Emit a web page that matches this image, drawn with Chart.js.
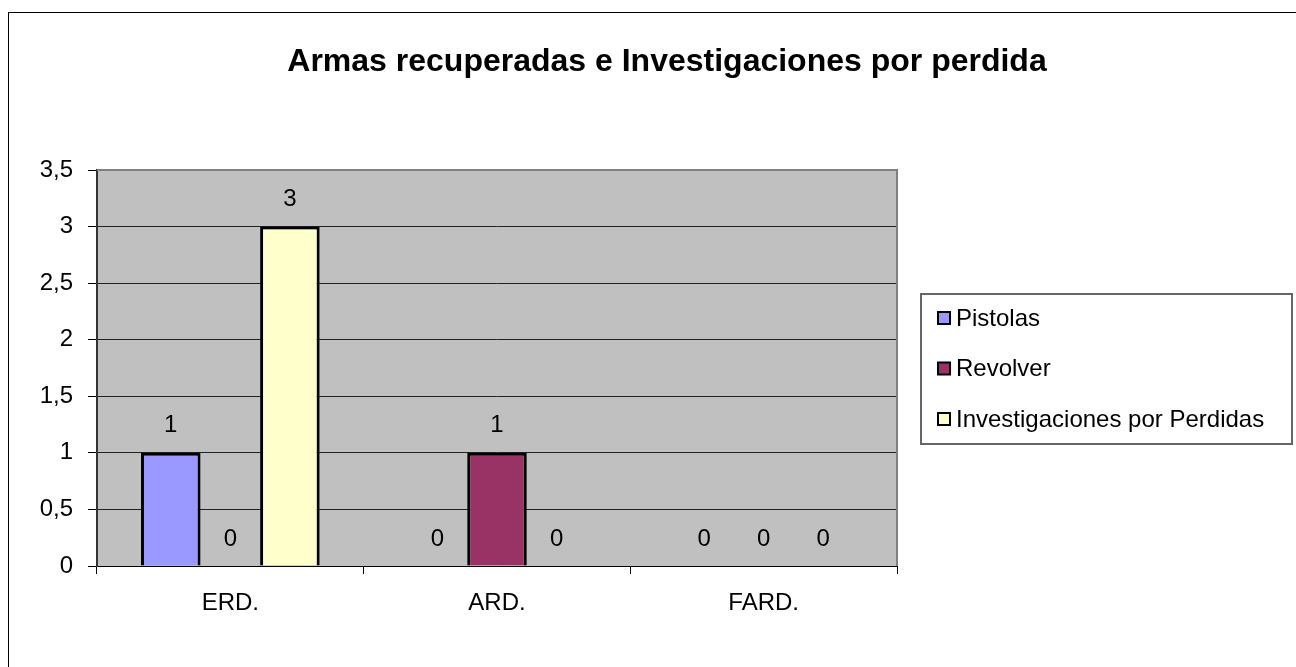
<!DOCTYPE html>
<html>
<head>
<meta charset="utf-8">
<script src="https://cdn.jsdelivr.net/npm/chart.js@4.4.1/dist/chart.umd.min.js"></script>
<style>
  html, body { margin: 0; padding: 0; background: #fff; }
  #chart { display: block; }
</style>
</head>
<body>
<canvas id="chart" width="1296" height="667"></canvas>
<script>
// chart data
const categories = ['ERD.', 'ARD.', 'FARD.'];
const seriesNames = ['Pistolas', 'Revolver', 'Investigaciones por Perdidas'];
const pistolas = [1, 0, 0];
const revolver = [0, 1, 0];
const investigaciones = [3, 0, 0];
const seriesColors = ['#9999FF', '#993366', '#FFFFCC'];
const yMax = 3.5;
const yStep = 0.5;
const titleText = 'Armas recuperadas e Investigaciones por perdida';

const FONT = '"Liberation Sans", Arial, sans-serif';
const fmt = v => String(v).replace('.', ',');

// frame, title, plot background, borders
const decorPlugin = {
    id: 'decor',
    beforeDraw(chart) {
        const ctx = chart.ctx;
        const a = chart.chartArea;
        ctx.save();
        ctx.fillStyle = '#fff';
        ctx.fillRect(0, 0, chart.width, chart.height);
        // outer chart frame
        ctx.strokeStyle = '#000';
        ctx.lineWidth = 1;
        ctx.strokeRect(8.5, 12.5, chart.width + 20, chart.height + 20);
        // plot area
        ctx.fillStyle = '#C0C0C0';
        ctx.fillRect(a.left, a.top, a.right - a.left, a.bottom - a.top);
        // title
        ctx.fillStyle = '#000';
        ctx.font = 'bold 32px ' + FONT;
        ctx.textAlign = 'center';
        ctx.textBaseline = 'alphabetic';
        ctx.fillText(titleText, 667, 71);
        ctx.restore();
    },
    beforeDatasetsDraw(chart) {
        const ctx = chart.ctx;
        const a = chart.chartArea;
        ctx.save();
        ctx.strokeStyle = '#808080';
        ctx.lineWidth = 2;
        ctx.beginPath();
        ctx.moveTo(a.left, a.top);
        ctx.lineTo(a.right, a.top);
        ctx.lineTo(a.right, a.bottom);
        ctx.stroke();
        ctx.restore();
    }
};

// value labels above each bar
const valueLabels = {
    id: 'valueLabels',
    afterDatasetsDraw(chart) {
        const ctx = chart.ctx;
        ctx.save();
        ctx.font = '24px ' + FONT;
        ctx.fillStyle = '#000';
        ctx.textAlign = 'center';
        ctx.textBaseline = 'middle';
        chart.data.datasets.forEach((ds, i) => {
            chart.getDatasetMeta(i).data.forEach((bar, j) => {
                ctx.fillText(fmt(ds.data[j]), bar.x, bar.y - 27);
            });
        });
        ctx.restore();
    }
};

// boxed legend on the right
const boxLegend = {
    id: 'boxLegend',
    afterDraw(chart) {
        const ctx = chart.ctx;
        ctx.save();
        ctx.strokeStyle = '#666';
        ctx.lineWidth = 2;
        ctx.strokeRect(921, 294, 371, 150);
        ctx.font = '24px ' + FONT;
        ctx.textAlign = 'left';
        ctx.textBaseline = 'middle';
        chart.data.datasets.forEach((ds, i) => {
            const cy = 318 + i * 50.5;
            ctx.fillStyle = ds.backgroundColor;
            ctx.fillRect(938, cy - 6, 12, 12);
            ctx.strokeStyle = '#000';
            ctx.lineWidth = 2;
            ctx.strokeRect(938, cy - 6, 12, 12);
            ctx.fillStyle = '#000';
            ctx.fillText(ds.label, 956, cy + 1);
        });
        ctx.restore();
    }
};

const seriesData = [pistolas, revolver, investigaciones];

new Chart(document.getElementById('chart'), {
    type: 'bar',
    data: {
        labels: categories,
        datasets: seriesNames.map((name, i) => ({
            label: name,
            data: seriesData[i],
            backgroundColor: seriesColors[i],
            borderColor: '#000',
            borderWidth: 3,
            categoryPercentage: 0.67,
            barPercentage: 1
        }))
    },
    options: {
        responsive: false,
        animation: false,
        devicePixelRatio: 1,
        layout: { padding: { top: 170, right: 399, bottom: 0, left: 0 } },
        plugins: {
            legend: { display: false },
            title: { display: false },
            tooltip: { enabled: false }
        },
        scales: {
            x: {
                offset: true,
                grid: {
                    drawOnChartArea: false,
                    drawTicks: true,
                    tickLength: 8,
                    offset: true,
                    color: '#000'
                },
                border: { color: '#000', width: 1 },
                ticks: {
                    color: '#000',
                    font: { family: FONT, size: 24 },
                    padding: 15
                },
                afterFit(scale) { scale.height = 101; }
            },
            y: {
                min: 0,
                max: yMax,
                grid: {
                    color: ctx => ctx.tick && ctx.tick.value === yMax ? '#808080' : '#222',
                    tickColor: '#000',
                    tickLength: 9,
                    lineWidth: 1
                },
                border: { color: '#333', width: 2 },
                ticks: {
                    stepSize: yStep,
                    color: '#000',
                    font: { family: FONT, size: 24 },
                    padding: 15,
                    callback: v => fmt(v)
                },
                afterFit(scale) { scale.width = 97; }
            }
        }
    },
    plugins: [decorPlugin, valueLabels, boxLegend]
});
</script>
</body>
</html>
